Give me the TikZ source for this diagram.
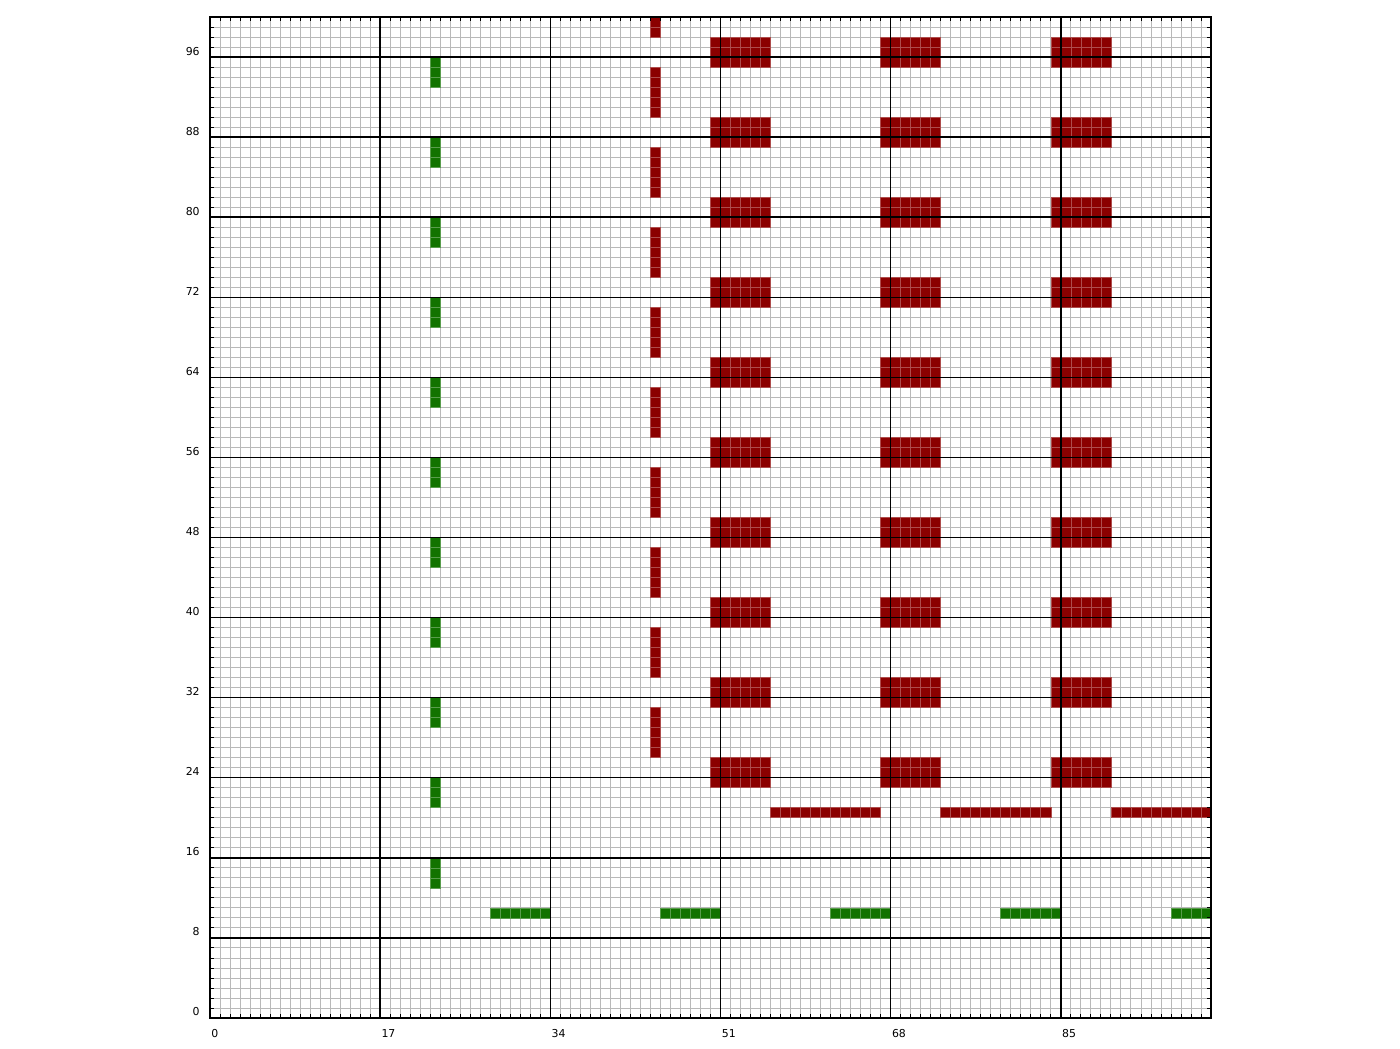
\documentclass[tikz,border=0pt]{standalone}
\usepackage{fontspec}
\setmainfont{DejaVu Sans}
\definecolor{dred}{RGB}{139,0,0}
\definecolor{dgreen}{RGB}{18,115,0}

\begin{document}
\begin{tikzpicture}[x=2mm,y=2mm,font=\fontsize{6.2}{7}\selectfont]
\tikzstyle{G}=[draw=dgreen!70!white,fill=dgreen,line width=0.4pt]
\tikzstyle{R}=[draw=dred!70!white,fill=dred,line width=0.4pt]
\tikzstyle{major}=[black,line width=0.8pt]
\useasboundingbox (-20.98,-3) rectangle (118.88,101.7);
% fine grid
\draw[gray!55,line width=0.5pt,step=2mm] (0,0) grid (100,100);
% green column and row
\foreach \k in {1,...,11} \foreach \j in {5,6,7} \draw[G] (22,{8*\k+\j}) rectangle ++(1,1);
\foreach \k in {0,...,4} \foreach \i in {0,...,5} {
  \pgfmathtruncatemacro\c{28+17*\k+\i}
  \ifnum\c<100 \draw[G] (\c,10) rectangle ++(1,1); \fi}
% red column, blocks and row
\foreach \k in {3,...,12} \foreach \j in {2,...,6} {
  \pgfmathtruncatemacro\r{8*\k+\j}
  \ifnum\r<100 \draw[R] (44,\r) rectangle ++(1,1); \fi}
\foreach \b in {50,67,84} \foreach \k in {2,...,11} \foreach \i in {0,...,5} \foreach \j in {7,8,9}
  \draw[R] ({\b+\i},{8*\k+\j}) rectangle ++(1,1);
\foreach \k in {0,1,2} \foreach \i in {0,...,10} {
  \pgfmathtruncatemacro\c{56+17*\k+\i}
  \ifnum\c<100 \draw[R] (\c,20) rectangle ++(1,1); \fi}
% major lines, frame, ticks
\foreach \x in {17,34,51,68,85} \draw[major] (\x,0) -- (\x,100);
\foreach \y in {8,16,...,96} \draw[major] (0,\y) -- (100,\y);
\draw[major] (0,0) rectangle (100,100);
\foreach \t in {1,...,99} {
  \draw[line width=0.5pt] (\t,0) -- ++(0,0.4) (\t,100) -- ++(0,-0.4);
  \draw[line width=0.5pt] (0,\t) -- ++(0.4,0) (100,\t) -- ++(-0.4,0);}
% labels
\foreach \x in {0,17,34,51,68,85} \node[anchor=north west,inner sep=0] (xl\x) at (\x+0.1,-1.1) {\x};
\foreach \y in {0,8,...,96} \node[anchor=south east,inner sep=0] (yl\y) at (-1.0,\y+0.15) {\y};
\end{tikzpicture}
\end{document}
